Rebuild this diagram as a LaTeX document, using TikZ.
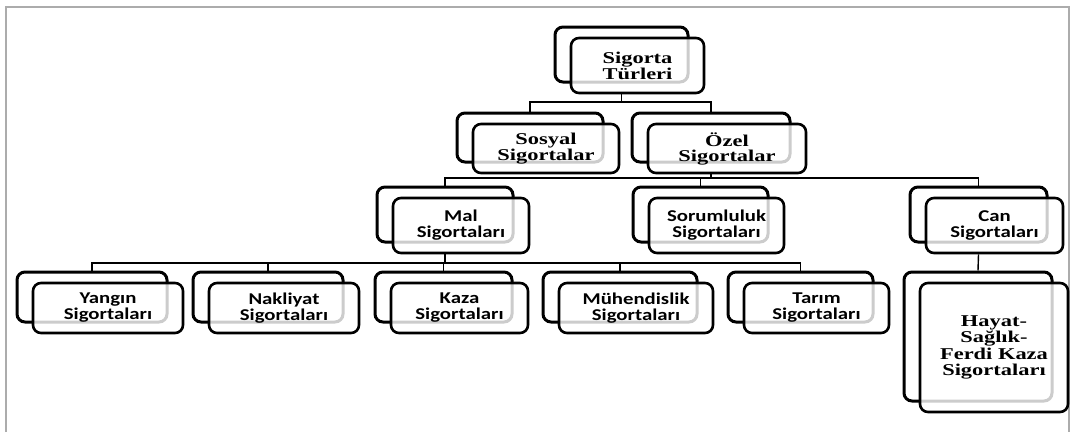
\documentclass[tikz,border=0pt]{standalone}
\usepackage{fontspec}
\newfontfamily\serifB[FakeStretch=1.36]{Liberation Serif}
\newfontfamily\sansB[FakeStretch=1.26]{Carlito}
\tikzset{
  backbox/.style={draw=black, line width=3pt, rounded corners=8pt, inner sep=0pt, fill=white},
  frontbox/.style={draw=black, line width=2.6pt, rounded corners=8pt, inner sep=0pt,
    fill=white, fill opacity=0.8, text opacity=1, align=center},
  conn/.style={draw=black, line width=1.4pt},
  serl/.style={font={\serifB\bfseries\fontsize{16.5}{15}\selectfont}},
  serh/.style={font={\serifB\bfseries\fontsize{16.5}{16.6}\selectfont}},
  sanl/.style={font={\sansB\bfseries\fontsize{16.5}{16}\selectfont}},
  frame/.style={draw=gray!65, line width=1.5pt},
}
% #1 name, #2 x1, #3 y1, #4 x2, #5 y2, #6 font style, #7 text
\newcommand{\dualbox}[7]{%
  \node[backbox, minimum width={(#4-#2)*1pt}, minimum height={(#5-#3)*1pt}]
    (#1b) at ({(#2+#4)/2},{(#3+#5)/2}) {};
  \node[frontbox, #6, minimum width={(#4-#2)*1pt}, minimum height={(#5-#3)*1pt}]
    (#1f) at ([shift={(16,11)}]#1b.center) {#7};
}
\begin{document}
\begin{tikzpicture}[x=1pt, y=-1pt]
\useasboundingbox (0,0) rectangle (1071,432);
\fill[white] (0,0) rectangle (1071,432);
\draw[frame] (6,432) -- (6,7) -- (1069,7) -- (1069,432);

\dualbox{top}{555}{27}{688}{82}{serl}{Sigorta\\Türleri}
\dualbox{sos}{457}{113}{603}{162}{serl}{Sosyal\\Sigortalar}
\dualbox{oze}{632}{113}{790}{162}{serl}{Özel\\Sigortalar}
\dualbox{mal}{377}{187}{513}{242}{sanl}{Mal\\Sigortaları}
\dualbox{sor}{633}{187}{768}{242}{sanl}{Sorumluluk\\Sigortaları}
\dualbox{can}{910}{187}{1047}{242}{sanl}{Can\\Sigortaları}
\dualbox{yan}{17}{272}{167}{322}{sanl}{Yangın\\Sigortaları}
\dualbox{nak}{193}{272}{343}{322}{sanl}{Nakliyat\\Sigortaları}
\dualbox{kaz}{375}{272}{512}{322}{sanl}{Kaza\\Sigortaları}
\dualbox{muh}{543}{272}{697}{322}{sanl}{Mühendislik\\Sigortaları}
\dualbox{tar}{728}{272}{873}{322}{sanl}{Tarım\\Sigortaları}
\dualbox{hay}{904}{272}{1052}{401}{serh}{Hayat-\\Sağlık-\\Ferdi Kaza\\Sigortaları}

\coordinate (bus0) at (0,102);
\coordinate (bus1) at (0,178);
\coordinate (bus2) at (0,263);

\draw[conn] (topb.center |- topf.south) -- (topb.center |- bus0);
\draw[conn] (sosb.north) -- (sosb.north |- bus0) -- (ozeb.north |- bus0) -- (ozeb.north);

\draw[conn] (ozeb.center |- ozef.south) -- (ozeb.center |- bus1);
\draw[conn] (malb.north) -- (malb.north |- bus1) -- (canb.north |- bus1) -- (canb.north);
\draw[conn] (sorb.north) -- (sorb.north |- bus1);

\draw[conn] (malb.center |- malf.south) -- (malb.center |- bus2);
\draw[conn] (yanb.north) -- (yanb.north |- bus2) -- (tarb.north |- bus2) -- (tarb.north);
\draw[conn] (nakb.north) -- (nakb.north |- bus2);
\draw[conn] (kazb.north) -- (kazb.north |- bus2);
\draw[conn] (muhb.north) -- (muhb.north |- bus2);

\draw[conn] (canb.center |- canf.south) -- (hayb.north);
\end{tikzpicture}
\end{document}
